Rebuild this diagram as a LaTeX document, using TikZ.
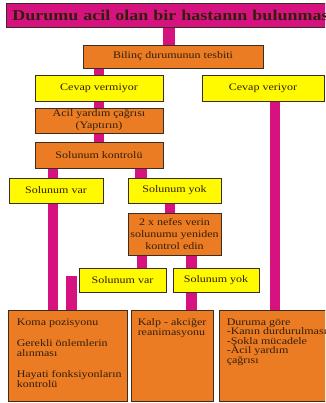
\documentclass[tikz,border=0pt]{standalone}
\usepackage{fontspec}
\setmainfont{Liberation Serif}
\newfontfamily\boxfont[FakeStretch=1.2]{Liberation Serif}
\usetikzlibrary{positioning,backgrounds}
\definecolor{akpink}{RGB}{214,18,128}
\definecolor{akorange}{RGB}{236,124,36}
\definecolor{akyellow}{RGB}{255,250,0}
\definecolor{akline}{RGB}{60,45,30}
\definecolor{aktext}{RGB}{50,30,10}
\tikzset{
    every node/.style={font=\boxfont\fontsize{10}{12}\selectfont, text=aktext},
    box/.style={draw=akline, line width=0.9pt, inner sep=0pt, align=center},
    orangebox/.style={box, fill=akorange},
    yellowbox/.style={box, fill=akyellow},
    boxtext/.style={inner sep=0pt, anchor=north west, align=left, font=\boxfont\fontsize{10}{9.5}\selectfont},
    link/.style={draw=akpink, line width=10pt}
}

\begin{document}
\begin{tikzpicture}[x=1pt,y=-1pt]
    \useasboundingbox (0,0) rectangle (325,403);
    \clip (0,0) rectangle (325,403);
    % title bar
    \node[box, fill=akpink, anchor=west, minimum height=24pt, text width=340pt, inner xsep=6pt, align=left,
          font=\boxfont\bfseries\fontsize{15}{18}\selectfont] (title) at (6,15) {Durumu acil olan bir hastanın bulunması};
    \node[orangebox, minimum width=180pt, minimum height=23pt] (bilinc) at (173,56.5) {Bilinç durumunun tesbiti};
    \node[yellowbox, minimum width=128pt, minimum height=26pt] (cvermiyor) at (99,88) {Cevap vermiyor};
    \node[yellowbox, minimum width=122pt, minimum height=26pt] (cveriyor) at (263,88) {Cevap veriyor};
    \node[orangebox, minimum width=128pt, minimum height=25pt] (acil) at (99,120.5) {Acil yardım çağrısı\\(Yaptırın)};
    \node[orangebox, minimum width=128pt, minimum height=26pt] (skontrol) at (99,155) {Solunum kontrolü};
    \node[yellowbox, minimum width=94pt, minimum height=25pt] (svar1) at (56,190.5) {Solunum var};
    \node[yellowbox, minimum width=93pt, minimum height=25pt] (syok1) at (174.5,190.5) {Solunum yok};
    \node[orangebox, minimum width=93pt, minimum height=42pt] (nefes) at (174.5,234) {2 x nefes verin\\solunumu yeniden\\kontrol edin};
    \node[yellowbox, minimum width=87pt, minimum height=24pt] (svar2) at (122.5,280) {Solunum var};
    \node[yellowbox, minimum width=86pt, minimum height=24pt] (syok2) at (216,280) {Solunum yok};
    % bottom boxes
    \node[orangebox, minimum width=119pt, minimum height=91pt] (koma) at (67.5,355.5) {};
    \node[orangebox, minimum width=82pt, minimum height=91pt] (kalp) at (172,355.5) {};
    \node[orangebox, minimum width=111pt, minimum height=91pt] (duruma) at (274.5,355.5) {};
    \node[boxtext] (komatext) at ([shift={(9pt,-9pt)}]koma.north west)
        {Koma pozisyonu\\[12pt]Gerekli önlemlerin\\alınması\\[12pt]Hayati fonksiyonların\\kontrolü};
    \node[boxtext] (kalptext) at ([shift={(7pt,-9pt)}]kalp.north west) {Kalp - akciğer\\reanimasyonu};
    \node[boxtext] (durumatext) at ([shift={(8pt,-9pt)}]duruma.north west)
        {Duruma göre\\-Kanın durdurulması\\-Şokla mücadele\\-Acil yardım\\çağrısı};
    % connectors
    \begin{scope}[on background layer]
        \draw[link, line width=12pt] ([xshift=-4pt]bilinc.north) -- ([xshift=-4pt]bilinc.north |- title.south);
        \draw[link] (cvermiyor.north) -- (cvermiyor.north |- bilinc.south);
        \draw[link] (acil.north) -- (cvermiyor.south);
        \draw[link] (skontrol.north) -- (acil.south);
        \draw[link] ([xshift=-3pt]svar1.north) -- ([xshift=-3pt]svar1.north |- skontrol.south);
        \draw[link, line width=12pt] ([xshift=42pt]skontrol.south) -- ([xshift=42pt]skontrol.south |- syok1.north);
        \draw[link] (duruma.north) -- (duruma.north |- cveriyor.south);
        \draw[link] ([xshift=-3pt]svar1.south) -- ([xshift=-3pt]svar1.south |- koma.north);
        \draw[link] ([xshift=-4.5pt]syok1.south) -- ([xshift=-4.5pt]syok1.south |- nefes.north);
        \draw[link] ([xshift=-32.5pt]nefes.south) -- ([xshift=-32.5pt]nefes.south |- svar2.north);
        \draw[link, line width=11pt] ([xshift=17pt]nefes.south) -- ([xshift=17pt]nefes.south |- syok2.north);
        \draw[link, line width=11pt] ([xshift=19.5pt]kalp.north) -- ([xshift=19.5pt]kalp.north |- syok2.south);
        \draw[link, line width=11pt] ([xshift=-7.5pt,yshift=4pt]svar2.west) -- ([xshift=-7.5pt]svar2.west |- koma.north);
    \end{scope}
\end{tikzpicture}
\end{document}
